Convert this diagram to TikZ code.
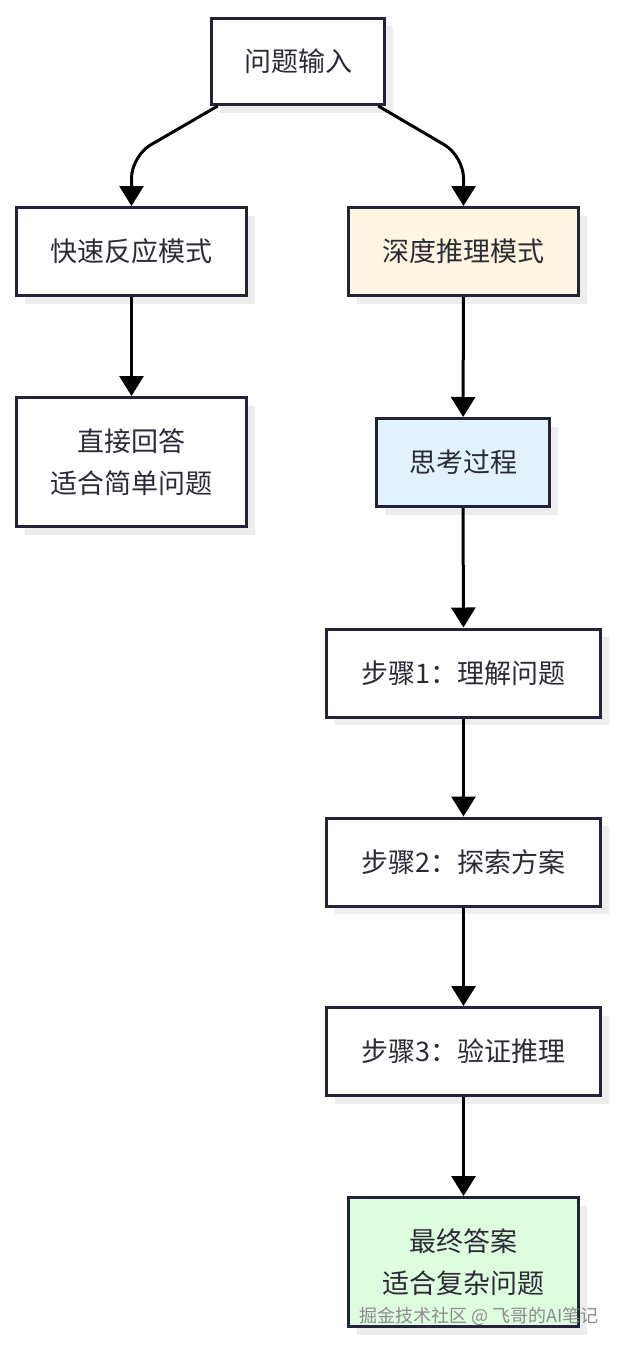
\documentclass[tikz,border=0pt]{standalone}
\usepackage{fontspec}
\setmainfont{Noto Sans CJK SC}
\usetikzlibrary{arrows.meta,shadows}
\definecolor{edgeink}{HTML}{23233A}
\definecolor{textink}{HTML}{2B2B36}
\definecolor{shadowgray}{HTML}{EDEDED}
\definecolor{deepfill}{HTML}{FFF5E1}
\definecolor{thinkfill}{HTML}{E1F2FD}
\definecolor{answerfill}{HTML}{DEFCDE}
\begin{document}
\begin{tikzpicture}[x=1pt,y=-1pt,
    box/.style={draw=edgeink, line width=3pt, fill=white, text=textink, align=center,
      font=\fontsize{27}{42}\selectfont, minimum width=230pt, minimum height=88pt, inner sep=0pt,
      general shadow={shadow xshift=8pt, shadow yshift=-8pt, fill=shadowgray}},
    flow/.style={line width=3pt, draw=black, rounded corners=22pt,
      -{Triangle[width=24pt,length=20pt]}}]
  % page
  \path[fill=white] (0,0) rectangle (618,1346);
  \useasboundingbox (0,0) rectangle (618,1346);

  % Drawing boxes
  \node[box, minimum width=173pt, minimum height=86pt] (input) at (298,61.5) {问题输入};
  \node[box] (fast) at (131.5,251.5) {快速反应模式};
  \node[box, fill=deepfill] (deep) at (463.5,251.5) {深度推理模式};
  \node[box, minimum height=129pt] (direct) at (131.5,462) {直接回答\\适合简单问题};
  \node[box, fill=thinkfill, minimum width=173pt] (think) at (463,462.5) {思考过程};
  \node[box, minimum width=274pt] (step1) at (463.5,673) {步骤1：理解问题};
  \node[box, minimum width=274pt] (step2) at (463.5,862) {步骤2：探索方案};
  \node[box, minimum width=274pt] (step3) at (463.5,1051.5) {步骤3：验证推理};
  \node[box, fill=answerfill, minimum height=129pt] (answer) at (463.5,1262) {最终答案\\适合复杂问题};

  % Drawing connectors
  \draw[flow] (input.-151) -- ([yshift=50pt]fast.north) -- (fast.north);
  \draw[flow] (input.-29) -- ([yshift=50pt]deep.north) -- (deep.north);
  \draw[flow] (fast) -- (direct);
  \draw[flow] (deep) -- (think);
  \draw[flow] (think) -- (step1);
  \draw[flow] (step1) -- (step2);
  \draw[flow] (step2) -- (step3);
  \draw[flow] (step3) -- (answer);

  % Marking watermark
  \node[text=black!45, font=\fontsize{18}{20}\selectfont, inner sep=0pt] (mark) at (479,1316) {掘金技术社区 @ 飞哥的AI笔记};
\end{tikzpicture}
\end{document}
